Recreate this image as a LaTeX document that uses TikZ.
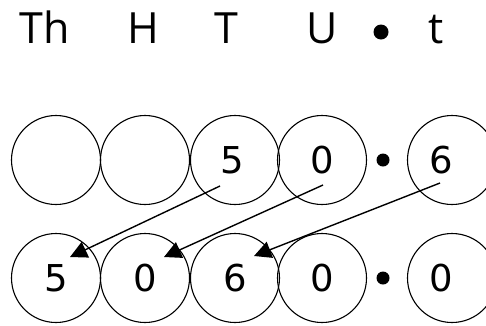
\documentclass[tikz,border=0pt]{standalone}
\usepackage{fontspec}
\setmainfont{DejaVu Sans}
\newfontfamily\headfont{Open Sans}
\usetikzlibrary{arrows.meta}
\begin{document}
\begin{tikzpicture}[x=1pt,y=-1pt,
  place/.style={circle,draw,line width=1.1pt,minimum size=89pt,inner sep=0pt,
    font=\fontsize{37}{37}\selectfont},
  head/.style={font=\headfont\fontsize{43}{43}\selectfont,inner sep=0pt,anchor=base},
  pointdot/.style={circle,fill,minimum size=13pt,inner sep=0pt},
  moveline/.style={line width=1.4pt,-{Triangle[length=17pt,width=17pt]}}]
\useasboundingbox (0,0) rectangle (486,325);
\clip (0,0) rectangle (486,325);
% column headings
\node[head] (hTh) at (45,43) {Th};
\node[head] (hH) at (143,43) {H};
\node[head] (hT) at (226,43) {T};
\node[head] (hU) at (322,43) {U};
\node[pointdot,minimum size=15pt] (hdot) at (381,32) {};
\node[head] (ht) at (436,43) {t};
% original number 50.6
\node[place] (a1) at (56,160) {};
\node[place] (a2) at (145,160) {};
\node[place] (a3) at (235,160) {\hspace{-6pt}5};
\node[place] (a4) at (322,160) {0};
\node[pointdot] (adot) at (383,160) {};
\node[place] (a5) at (452,160) {\hspace{-22pt}6};
% result 5060.0
\node[place] (b1) at (56,278) {5};
\node[place] (b2) at (145,278) {0};
\node[place] (b3) at (235,278) {6};
\node[place] (b4) at (322,278) {0};
\node[pointdot] (bdot) at (383,278) {};
\node[place] (b5) at (452,278) {\hspace{-22pt}0};
% digits move two places to the left
\coordinate (s1) at (220,186);
\coordinate (s2) at (323,185);
\coordinate (s3) at (440,183);
\coordinate (e1) at (70,257);
\coordinate (e2) at (164,257);
\coordinate (e3) at (254,256);
\draw[moveline] (s1) -- (e1);
\draw[moveline] (s2) -- (e2);
\draw[moveline] (s3) -- (e3);
\end{tikzpicture}
\end{document}
